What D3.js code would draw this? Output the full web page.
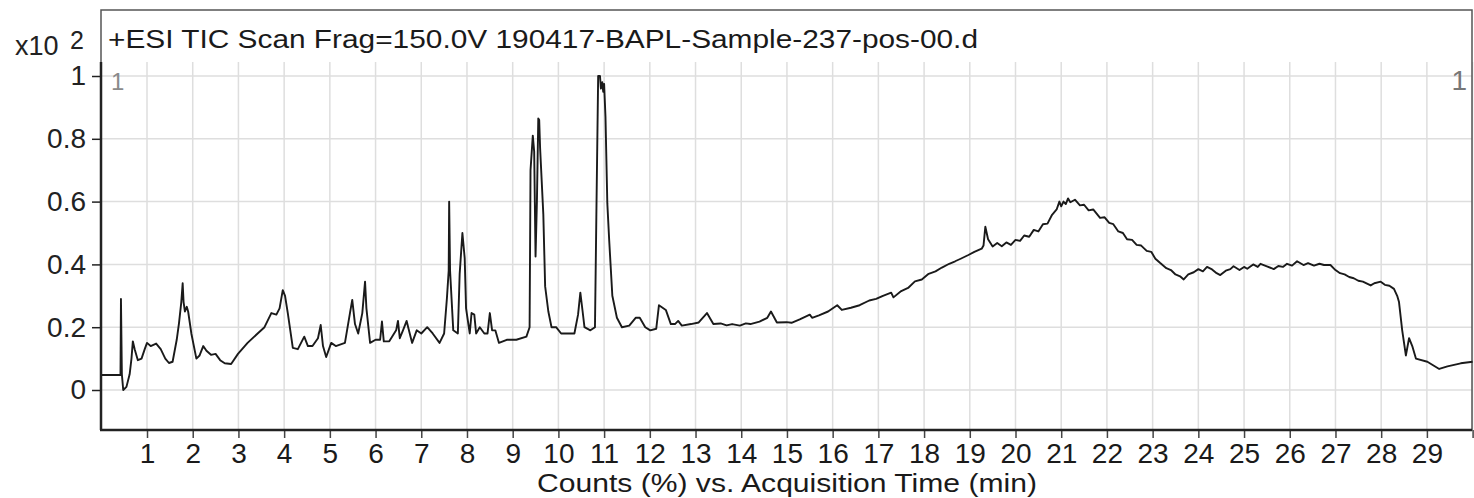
<!DOCTYPE html>
<html>
<head>
<meta charset="utf-8">
<script src="https://cdn.jsdelivr.net/npm/d3@7"></script>
<style>
  body { margin: 0; background: #fff; }
  svg { display: block; font-family: "Liberation Sans", Arial, sans-serif; }
</style>
</head>
<body>
<div id="chart"></div>
<script>
// acquisition time (min) and counts (x10^2)
const times = [
  0.0, 0.42, 0.43, 0.45, 0.48, 0.55, 0.62, 0.66, 0.69, 0.73, 0.8, 0.88, 0.95, 1.0, 1.08, 1.2, 1.3, 1.4, 1.48, 1.56,
  1.65, 1.7, 1.75, 1.78, 1.8, 1.83, 1.87, 1.9, 1.97, 2.08, 2.15, 2.23, 2.3, 2.4, 2.5, 2.6, 2.7, 2.84, 2.99, 3.2,
  3.42, 3.57, 3.72, 3.83, 3.9, 3.97, 4.02, 4.08, 4.19, 4.3, 4.44, 4.52, 4.62, 4.74, 4.8, 4.85, 4.92, 5.03, 5.13, 5.33,
  5.44, 5.49, 5.55, 5.62, 5.71, 5.77, 5.8, 5.88, 6.0, 6.1, 6.14, 6.18, 6.3, 6.45, 6.49, 6.53, 6.6, 6.68, 6.73, 6.8,
  6.9, 7.0, 7.13, 7.25, 7.4, 7.5, 7.56, 7.6, 7.61, 7.63, 7.7, 7.8, 7.84, 7.9, 7.95, 7.98, 8.06, 8.1, 8.16, 8.2,
  8.28, 8.38, 8.45, 8.5, 8.55, 8.62, 8.7, 8.87, 9.08, 9.3, 9.37, 9.39, 9.44, 9.47, 9.5, 9.53, 9.56, 9.58, 9.6, 9.67,
  9.71, 9.78, 9.85, 9.95, 10.06, 10.2, 10.35, 10.43, 10.48, 10.53, 10.57, 10.7, 10.8, 10.83, 10.87, 10.91, 10.93, 10.96, 10.98, 11.0,
  11.03, 11.07, 11.11, 11.18, 11.28, 11.39, 11.55, 11.69, 11.78, 11.9, 12.01, 12.14, 12.2, 12.35, 12.46, 12.55, 12.62, 12.7, 12.9, 13.07,
  13.25, 13.39, 13.55, 13.68, 13.8, 13.97, 14.1, 14.2, 14.4, 14.57, 14.65, 14.78, 14.99, 15.1, 15.28, 15.5, 15.55, 15.7, 15.9, 16.1,
  16.2, 16.4, 16.59, 16.8, 16.95, 17.1, 17.28, 17.33, 17.5, 17.65, 17.8, 17.95, 18.1, 18.25, 18.39, 18.55, 18.68, 18.8, 18.97, 19.1,
  19.26, 19.3, 19.34, 19.4, 19.5, 19.6, 19.7, 19.8, 19.9, 20.0, 20.1, 20.19, 20.3, 20.4, 20.5, 20.6, 20.7, 20.8, 20.9, 20.96,
  21.0, 21.05, 21.1, 21.15, 21.2, 21.3, 21.41, 21.5, 21.6, 21.7, 21.85, 21.95, 22.05, 22.14, 22.25, 22.35, 22.44, 22.55, 22.65, 22.75,
  22.87, 22.97, 23.06, 23.16, 23.3, 23.4, 23.5, 23.6, 23.68, 23.78, 23.9, 24.0, 24.1, 24.19, 24.3, 24.4, 24.48, 24.6, 24.7, 24.77,
  24.9, 25.0, 25.07, 25.2, 25.3, 25.36, 25.5, 25.65, 25.75, 25.85, 25.94, 26.05, 26.16, 26.3, 26.4, 26.53, 26.65, 26.75, 26.89, 27.0,
  27.1, 27.2, 27.3, 27.4, 27.5, 27.6, 27.77, 27.85, 27.99, 28.08, 28.18, 28.28, 28.35, 28.39, 28.46, 28.54, 28.61, 28.68, 28.76, 29.01,
  29.27, 29.45, 29.74, 30.0
];

const counts = [
  0.048, 0.048, 0.29, 0.05, 0.0, 0.01, 0.05, 0.1, 0.155, 0.13, 0.095, 0.1, 0.13, 0.15, 0.14, 0.148, 0.13, 0.1, 0.086, 0.09,
  0.16, 0.213, 0.28, 0.34, 0.28, 0.25, 0.265, 0.25, 0.18, 0.10, 0.11, 0.14, 0.125, 0.112, 0.115, 0.095, 0.085, 0.083, 0.115, 0.15,
  0.18, 0.2, 0.245, 0.24, 0.26, 0.318, 0.30, 0.245, 0.134, 0.13, 0.17, 0.14, 0.14, 0.165, 0.207, 0.14, 0.105, 0.15, 0.14, 0.15,
  0.245, 0.287, 0.21, 0.18, 0.245, 0.345, 0.26, 0.15, 0.16, 0.16, 0.218, 0.155, 0.155, 0.19, 0.22, 0.165, 0.19, 0.22, 0.19, 0.15,
  0.19, 0.18, 0.2, 0.18, 0.15, 0.18, 0.29, 0.38, 0.60, 0.38, 0.19, 0.18, 0.37, 0.50, 0.42, 0.26, 0.18, 0.245, 0.24, 0.18,
  0.2, 0.18, 0.18, 0.245, 0.19, 0.19, 0.15, 0.16, 0.16, 0.17, 0.2, 0.70, 0.81, 0.76, 0.425, 0.6, 0.865, 0.86, 0.77, 0.56,
  0.33, 0.25, 0.2, 0.2, 0.18, 0.18, 0.18, 0.24, 0.31, 0.25, 0.2, 0.19, 0.2, 0.55, 1.0, 1.0, 0.96, 0.98, 0.95, 0.975,
  0.87, 0.595, 0.48, 0.30, 0.23, 0.2, 0.205, 0.23, 0.23, 0.2, 0.19, 0.195, 0.27, 0.255, 0.21, 0.21, 0.22, 0.205, 0.21, 0.215,
  0.245, 0.21, 0.212, 0.206, 0.21, 0.205, 0.212, 0.21, 0.218, 0.23, 0.25, 0.215, 0.216, 0.214, 0.225, 0.24, 0.23, 0.238, 0.25, 0.27,
  0.255, 0.262, 0.27, 0.285, 0.29, 0.30, 0.31, 0.295, 0.315, 0.325, 0.346, 0.352, 0.37, 0.378, 0.39, 0.402, 0.41, 0.418, 0.43, 0.44,
  0.45, 0.46, 0.52, 0.48, 0.457, 0.468, 0.458, 0.470, 0.462, 0.478, 0.475, 0.492, 0.488, 0.510, 0.505, 0.528, 0.530, 0.558, 0.575, 0.600,
  0.585, 0.600, 0.592, 0.610, 0.598, 0.606, 0.588, 0.590, 0.572, 0.575, 0.548, 0.550, 0.532, 0.528, 0.505, 0.500, 0.480, 0.478, 0.462, 0.460,
  0.443, 0.440, 0.418, 0.405, 0.388, 0.382, 0.368, 0.362, 0.352, 0.368, 0.375, 0.385, 0.378, 0.392, 0.384, 0.372, 0.366, 0.380, 0.385, 0.394,
  0.382, 0.392, 0.386, 0.400, 0.392, 0.402, 0.394, 0.385, 0.395, 0.392, 0.402, 0.396, 0.410, 0.398, 0.404, 0.396, 0.402, 0.398, 0.398, 0.382,
  0.372, 0.368, 0.360, 0.356, 0.348, 0.345, 0.333, 0.340, 0.345, 0.335, 0.332, 0.322, 0.300, 0.28, 0.19, 0.11, 0.165, 0.14, 0.10, 0.09,
  0.067, 0.075, 0.085, 0.09
];

const xTicks = d3.range(1, 31);
const yTicks = [0, 0.2, 0.4, 0.6, 0.8, 1];
const titleText = "+ESI TIC Scan Frag=150.0V 190417-BAPL-Sample-237-pos-00.d";
const xTitle = "Counts (%) vs. Acquisition Time (min)";

var width = 1474, height = 498;
var frame = {left: 101, right: 1472, top: 10, bottom: 430, gridTop: 62};

var svg = d3.select("#chart").append("svg")
    .attr("width", width)
    .attr("height", height);

var x = d3.scaleLinear().domain([0, 30]).range([101.3, 1472.6]);
var y = d3.scaleLinear().domain([0, 1]).range([390, 76]);

// grid
svg.append("g").selectAll("line.v")
  .data(xTicks)
  .enter().append("line")
    .attr("x1", d => x(d)).attr("x2", d => x(d))
    .attr("y1", frame.gridTop).attr("y2", frame.bottom)
    .attr("stroke", "#dedede").attr("stroke-width", 1.5);

svg.append("g").selectAll("line.h")
  .data(yTicks)
  .enter().append("line")
    .attr("x1", frame.left).attr("x2", frame.right)
    .attr("y1", d => y(d)).attr("y2", d => y(d))
    .attr("stroke", "#dedede").attr("stroke-width", 1.5);

// frame
svg.append("rect")
  .attr("x", frame.left).attr("y", frame.top)
  .attr("width", frame.right - frame.left).attr("height", frame.bottom - frame.top)
  .attr("fill", "none").attr("stroke", "#555").attr("stroke-width", 1.5);

// trace
var pts = times.map((t, i) => [t, counts[i]]);
svg.append("path")
  .datum(pts)
  .attr("fill", "none")
  .attr("stroke", "#1a1a1a")
  .attr("stroke-width", 1.9)
  .attr("stroke-linejoin", "round")
  .attr("d", d3.line().x(d => x(d[0])).y(d => y(d[1])));

// y axis
var yAxis = svg.append("g")
  .attr("transform", "translate(" + frame.left + ",0)")
  .call(d3.axisLeft(y).tickValues(yTicks).tickSize(9).tickPadding(6)
    .tickFormat(d => d === 0 || d === 1 ? String(d) : d3.format(".1f")(d)));
yAxis.select(".domain").remove();
yAxis.selectAll(".tick line").attr("stroke", "#222").attr("stroke-width", 1.5);
yAxis.selectAll(".tick text")
  .attr("font-size", 28).attr("fill", "#222")
  .attr("font-family", "Liberation Sans, Arial, sans-serif");

svg.append("line")
  .attr("x1", frame.left).attr("x2", frame.left)
  .attr("y1", frame.gridTop).attr("y2", frame.bottom)
  .attr("stroke", "#222").attr("stroke-width", 2.5);

// x axis
var xAxis = svg.append("g")
  .attr("transform", "translate(0," + frame.bottom + ")")
  .call(d3.axisBottom(x).tickValues(xTicks).tickSize(8).tickPadding(5)
    .tickFormat(d => d === 30 ? "" : String(d)));
xAxis.select(".domain").remove();
xAxis.selectAll(".tick line").attr("stroke", "#444").attr("stroke-width", 1.5);
xAxis.selectAll(".tick text")
  .attr("font-size", 28).attr("fill", "#1a1a1a")
  .attr("font-family", "Liberation Sans, Arial, sans-serif");

svg.append("line")
  .attr("x1", frame.left - 1).attr("x2", frame.right)
  .attr("y1", frame.bottom).attr("y2", frame.bottom)
  .attr("stroke", "#222").attr("stroke-width", 2.5);

// titles
svg.append("text")
  .attr("x", 108).attr("y", 48)
  .attr("font-size", 25).attr("fill", "#1a1a1a")
  .attr("textLength", 870).attr("lengthAdjust", "spacingAndGlyphs")
  .text(titleText);

svg.append("text")
  .attr("x", 787).attr("y", 492)
  .attr("text-anchor", "middle")
  .attr("font-size", 26).attr("fill", "#1a1a1a")
  .attr("textLength", 500).attr("lengthAdjust", "spacingAndGlyphs")
  .text(xTitle);

svg.append("text")
  .attr("x", 15).attr("y", 55)
  .attr("font-size", 27).attr("fill", "#222")
  .text("x10");
svg.append("text")
  .attr("x", 70).attr("y", 49)
  .attr("font-size", 25).attr("fill", "#222")
  .text("2");

// gray cursor markers
svg.append("text")
  .attr("x", 111).attr("y", 90)
  .attr("font-size", 24).attr("fill", "#8a8a8a")
  .text("1");
svg.append("text")
  .attr("x", 1467).attr("y", 90)
  .attr("text-anchor", "end")
  .attr("font-size", 28).attr("fill", "#777")
  .text("1");
</script>
</body>
</html>
